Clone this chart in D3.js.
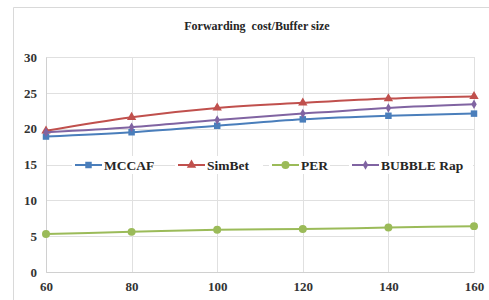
<!DOCTYPE html>
<html>
<head>
<meta charset="utf-8">
<script src="https://cdn.jsdelivr.net/npm/d3@7"></script>
<style>
body { margin: 0; background: #fff; }
svg { display: block; }
</style>
</head>
<body>
<script>
const bufferSizes = [60, 80, 100, 120, 140, 160];
const yTicks = [0, 5, 10, 15, 20, 25, 30];
const mccaf  = [18.9, 19.5, 20.4, 21.3, 21.8, 22.1];
const simbet = [19.7, 21.6, 22.9, 23.6, 24.2, 24.5];
const per    = [5.3, 5.6, 5.9, 6.0, 6.2, 6.4];
const bubble = [19.5, 20.2, 21.2, 22.1, 22.9, 23.4];

const FONT = "'Liberation Serif', 'Times New Roman', Times, serif";

const series = [
    {name: 'MCCAF', values: mccaf, color: '#4a7ebb', symbol: d3.symbolSquare, size: 42},
    {name: 'SimBet', values: simbet, color: '#c0504d', symbol: d3.symbolTriangle, size: 38},
    {name: 'PER', values: per, color: '#9bbb59', symbol: d3.symbolCircle, size: 50},
    {name: 'BUBBLE Rap', values: bubble, color: '#8064a2', symbol: d3.symbolDiamond, size: 26},
];

function main()
{
    const W = 489, H = 300;
    const svg = d3.select('body').append('svg')
        .attr('width', W).attr('height', H)
        .attr('font-family', FONT)
        .attr('font-weight', 'bold');

    // chart area border
    svg.append('path')
        .attr('d', `M13.5,${H} V7.5 H${W}`)
        .attr('fill', 'none').attr('stroke', '#d9d9d9');

    svg.append('text')
        .attr('x', 257).attr('y', 30)
        .attr('text-anchor', 'middle')
        .style('font-family', FONT)
        .style('font-weight', 'bold')
        .style('font-size', '12px')
        .style('fill', '#262626')
        .style('white-space', 'pre')
        .text('Forwarding  cost/Buffer size');

    const scX = d3.scaleLinear().domain([60, 160]).range([46, 474]);
    const scY = d3.scaleLinear().domain([0, 30]).range([272, 57]);

    // grid
    const grid = svg.append('g').attr('stroke', '#e0e0e0').attr('stroke-width', 1);
    grid.selectAll('.h').data(yTicks).enter().append('line')
        .attr('x1', scX(60)).attr('x2', scX(160))
        .attr('y1', d => Math.round(scY(d)) + 0.5).attr('y2', d => Math.round(scY(d)) + 0.5);
    grid.selectAll('.v').data(bufferSizes).enter().append('line')
        .attr('y1', scY(0)).attr('y2', scY(30))
        .attr('x1', d => Math.round(scX(d)) + 0.5).attr('x2', d => Math.round(scX(d)) + 0.5);

    // axes
    const axY = svg.append('g')
        .attr('transform', `translate(${scX(60)},0)`)
        .call(d3.axisLeft(scY).tickValues(yTicks).tickSize(0).tickPadding(9));
    axY.select('.domain').attr('stroke', '#d0d0d0');
    axY.selectAll('text')
        .style('font-family', FONT).style('font-weight', 'bold')
        .style('font-size', '13px').style('fill', '#333');

    const axX = svg.append('g')
        .attr('transform', `translate(0,${scY(0)})`)
        .call(d3.axisBottom(scX).tickValues(bufferSizes).tickSize(0).tickPadding(10));
    axX.select('.domain').attr('stroke', '#d0d0d0');
    axX.selectAll('text')
        .style('font-family', FONT).style('font-weight', 'bold')
        .style('font-size', '13px').style('fill', '#333');

    const line = d3.line()
        .curve(d3.curveMonotoneX)
        .x((d, i) => scX(bufferSizes[i]))
        .y(d => scY(d));

    series.forEach(s => {
        const g = svg.append('g');
        g.append('path')
            .attr('d', line(s.values))
            .attr('fill', 'none')
            .attr('stroke', s.color)
            .attr('stroke-width', 2);
        g.selectAll('path.m').data(s.values).enter().append('path')
            .attr('class', 'm')
            .attr('d', d3.symbol().type(s.symbol).size(s.size))
            .attr('transform', (d, i) => `translate(${scX(bufferSizes[i])},${scY(d)})`)
            .attr('fill', s.color);
    });

    // legend
    const legendX = [75, 178, 272, 352];
    const legend = svg.append('g').attr('transform', 'translate(0,165)');
    series.forEach((s, i) => {
        const g = legend.append('g').attr('transform', `translate(${legendX[i]},0)`);
        g.append('rect').attr('x', -3).attr('y', -9).attr('width', s.name.length * 9 + 34).attr('height', 18).attr('fill', '#fff');
        g.append('line').attr('x1', 0).attr('x2', 27).attr('stroke', s.color).attr('stroke-width', 2);
        g.append('path').attr('d', d3.symbol().type(s.symbol).size(s.size))
            .attr('transform', 'translate(13.5,0)').attr('fill', s.color);
        g.append('text').attr('x', 29).attr('y', 4.5)
            .style('font-family', FONT).style('font-weight', 'bold')
            .style('font-size', '13.5px').style('fill', '#262626')
            .text(s.name);
    });
}

main();
</script>
</body>
</html>
